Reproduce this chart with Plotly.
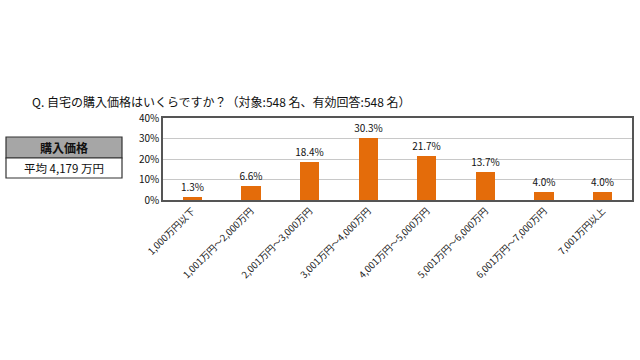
import plotly.graph_objects as go

categories = ["1,000万円以下", "1,001万円～2,000万円", "2,001万円～3,000万円", "3,001万円～4,000万円",
              "4,001万円～5,000万円", "5,001万円～6,000万円", "6,001万円～7,000万円", "7,001万円以上"]
values = [1.3, 6.6, 18.4, 30.3, 21.7, 13.7, 4.0, 4.0]
y_ticks = [0, 10, 20, 30, 40]
title_text = "Q. 自宅の購入価格はいくらですか？（対象:548 名、有効回答:548 名）"
box_header = "購入価格"
box_value = "平均 4,179 万円"

FONT = "Noto Sans CJK JP"
ORANGE = "#E46C0A"

fig = go.Figure(go.Bar(
    x=categories, y=values,
    marker=dict(color=ORANGE, line=dict(width=0)),
    width=0.33,
    text=[f"{v:.1f}%" for v in values],
    textposition="outside",
    constraintext="none",
    textfont=dict(family=FONT, size=10, color="#111"),
    cliponaxis=False,
    hoverinfo="skip",
))

L, R, T, B = 163, 8, 118, 160
fig.update_layout(
    width=640, height=360,
    margin=dict(l=L, r=R, t=T, b=B),
    paper_bgcolor="white", plot_bgcolor="white",
    showlegend=False,
    font=dict(family=FONT, color="#222"),
    xaxis=dict(
        tickangle=-45, tickfont=dict(family=FONT, size=9.5, color="#222"),
        showline=True, linecolor="#555", linewidth=1.5, mirror=True,
        ticks="", showgrid=False, automargin=False,
    ),
    yaxis=dict(
        range=[0, 40], tickvals=y_ticks, ticktext=[f"{t}%" for t in y_ticks],
        tickfont=dict(family=FONT, size=10, color="#111"),
        showgrid=True, gridcolor="#c8c8c8", gridwidth=1,
        showline=True, linecolor="#555", linewidth=1.5, mirror=True,
        ticks="", zeroline=False, automargin=False,
    ),
    bargap=0,
)

pw, ph = 640 - L - R, 360 - T - B
def px(x): return (x - L) / pw
def py(y): return (360 - B - y) / ph

fig.add_annotation(text=title_text, xref="paper", yref="paper",
                   x=px(30), y=py(101), xanchor="left", yanchor="middle", showarrow=False,
                   font=dict(family=FONT, size=12, color="#111"))

fig.add_shape(type="rect", xref="paper", yref="paper",
              x0=px(6), x1=px(122), y0=py(158), y1=py(137),
              fillcolor="#a6a6a6", line=dict(color="#333", width=1.2))
fig.add_shape(type="rect", xref="paper", yref="paper",
              x0=px(6), x1=px(122), y0=py(178), y1=py(158),
              fillcolor="white", line=dict(color="#333", width=1.2))
fig.add_annotation(text=box_header, xref="paper", yref="paper",
                   x=px(64), y=py(147.5), xanchor="center", yanchor="middle", showarrow=False,
                   font=dict(family=FONT, size=12, color="#111", weight=700))
fig.add_annotation(text=box_value, xref="paper", yref="paper",
                   x=px(64), y=py(168), xanchor="center", yanchor="middle", showarrow=False,
                   font=dict(family=FONT, size=11.5, color="#111"))

fig.write_html("out.html", config={"displayModeBar": False},
               post_script="document.body.style.margin='0';document.body.style.padding='0';")
